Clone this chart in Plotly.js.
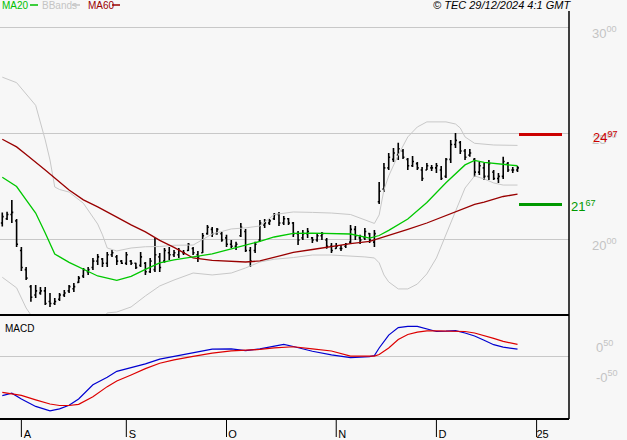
<!DOCTYPE html>
<html>
<head>
<meta charset="utf-8">
<script src="https://cdn.plot.ly/plotly-3.0.1.min.js"></script>
<style>html,body{margin:0;padding:0;background:#f7f7f7;}#chart{width:627px;height:440px;}</style>
</head>
<body>
<div id="chart"></div>
<script>
// ---- Data ----
const dates = [
'2024-07-26','2024-07-29','2024-07-30','2024-07-31',
'2024-08-01','2024-08-02','2024-08-05','2024-08-06','2024-08-07','2024-08-08','2024-08-09','2024-08-12','2024-08-13','2024-08-14','2024-08-15','2024-08-16','2024-08-19','2024-08-20','2024-08-21','2024-08-22','2024-08-23','2024-08-26','2024-08-27','2024-08-28','2024-08-29','2024-08-30',
'2024-09-02','2024-09-03','2024-09-04','2024-09-05','2024-09-06','2024-09-09','2024-09-10','2024-09-11','2024-09-12','2024-09-13','2024-09-16','2024-09-17','2024-09-18','2024-09-19','2024-09-20','2024-09-23','2024-09-24','2024-09-25','2024-09-26','2024-09-27','2024-09-30',
'2024-10-01','2024-10-02','2024-10-03','2024-10-04','2024-10-07','2024-10-08','2024-10-09','2024-10-10','2024-10-11','2024-10-14','2024-10-15','2024-10-16','2024-10-17','2024-10-18','2024-10-21','2024-10-22','2024-10-23','2024-10-24','2024-10-25','2024-10-28','2024-10-29','2024-10-30','2024-10-31',
'2024-11-01','2024-11-04','2024-11-05','2024-11-06','2024-11-07','2024-11-08','2024-11-11','2024-11-12','2024-11-13','2024-11-14','2024-11-15','2024-11-18','2024-11-19','2024-11-20','2024-11-21','2024-11-22','2024-11-25','2024-11-26','2024-11-27','2024-11-28','2024-11-29',
'2024-12-02','2024-12-03','2024-12-04','2024-12-05','2024-12-06','2024-12-09','2024-12-10','2024-12-11','2024-12-12','2024-12-13','2024-12-16','2024-12-17','2024-12-18','2024-12-19','2024-12-20','2024-12-23','2024-12-24','2024-12-27'
];
const openP = [
20.8,21.0,21.2,20.9,19.5,18.6,17.8,17.4,17.5,17.6,
17.1,17.0,17.2,17.4,17.6,17.7,18.0,18.3,18.5,18.7,
19.0,19.1,18.9,19.3,19.2,19.0,18.9,19.0,18.9,18.8,
18.9,18.5,18.6,19.2,19.0,19.4,19.3,19.3,19.4,19.5,
19.6,19.3,19.4,20.3,20.5,20.3,20.3,20.1,19.8,19.7,
20.2,20.4,19.5,19.5,20.0,20.7,20.8,21.0,21.2,20.8,
21.0,20.8,20.3,20.1,20.3,20.1,20.0,20.2,20.0,19.7,
19.6,19.6,19.7,19.9,20.5,20.1,20.1,20.3,19.9,21.8,
22.4,23.4,23.8,24.0,24.2,23.8,23.5,23.6,23.3,23.3,
23.4,23.4,23.3,23.0,23.8,24.5,24.6,24.2,24.0,23.8,
23.2,23.4,23.0,23.2,22.9,23.0,23.6,23.3,23.3];
const highP = [
21.29,21.33,21.89,20.99,19.67,18.73,17.88,17.88,17.78,17.78,
17.50,17.26,17.50,17.64,17.88,17.97,18.30,18.68,18.73,19.15,
19.34,19.15,19.43,19.53,19.29,19.06,19.43,19.06,18.92,19.43,
18.96,19.15,20.09,19.39,19.62,19.67,19.53,19.62,19.53,19.86,
19.67,19.48,20.33,20.71,20.61,20.57,20.38,20.24,20.00,19.91,
20.80,20.52,19.67,19.91,20.94,20.99,20.99,21.27,21.32,21.13,
21.04,20.85,20.42,20.47,20.57,20.14,20.33,20.38,20.09,19.86,
19.86,19.76,19.86,20.71,20.66,20.24,20.57,20.33,20.47,22.74,
23.63,24.10,24.34,24.58,24.29,23.87,23.96,23.68,23.44,23.63,
23.54,23.63,23.49,23.87,24.72,25.05,24.67,24.29,24.29,23.87,
23.68,23.63,23.77,23.30,23.16,23.92,23.68,23.44,23.49];
const lowP = [
20.63,20.94,20.80,19.67,18.54,18.11,17.08,17.26,17.41,16.93,
16.84,16.93,17.12,17.31,17.50,17.55,17.97,18.21,18.35,18.58,
18.82,18.73,18.73,19.20,18.82,18.87,18.82,18.82,18.63,18.73,
18.35,18.44,18.49,18.49,18.92,19.06,19.20,19.15,19.29,19.48,
19.29,18.96,19.39,20.24,20.14,20.24,19.91,19.67,19.62,19.53,
20.14,19.43,18.73,19.39,19.91,20.57,20.71,20.94,20.66,20.71,
20.71,20.14,19.76,20.00,20.09,19.86,19.91,20.00,19.58,19.39,
19.58,19.48,19.62,19.81,20.00,19.81,20.00,19.86,19.67,21.70,
22.26,23.30,23.68,23.77,23.82,23.30,23.44,23.30,22.78,23.30,
23.25,23.16,22.83,22.92,23.63,24.34,24.06,23.77,23.92,22.97,
23.07,22.83,22.83,22.83,22.69,22.88,23.21,23.16,23.21];
const closeP = [
21.1,21.2,21.3,19.8,18.7,18.2,17.3,17.6,17.6,17.0,
17.0,17.1,17.4,17.5,17.8,17.8,18.2,18.6,18.6,19.0,
19.2,18.9,19.3,19.4,19.0,18.9,19.3,18.9,18.7,19.2,
18.5,19.0,19.3,18.7,19.5,19.3,19.4,19.5,19.4,19.8,
19.4,19.2,20.2,20.6,20.3,20.5,20.0,19.8,19.7,19.8,
20.6,19.5,19.0,19.8,20.8,20.8,20.9,21.2,20.8,21.0,
20.8,20.3,20.0,20.3,20.4,20.0,20.2,20.3,19.7,19.5,
19.7,19.6,19.8,20.5,20.2,20.0,20.4,20.0,20.3,22.3,
23.4,23.9,24.1,24.3,23.9,23.5,23.7,23.4,22.9,23.5,
23.4,23.5,22.9,23.8,24.5,24.7,24.2,23.9,24.1,23.2,
23.5,23.0,23.6,22.9,23.0,23.7,23.3,23.3,23.4];

// moving averages, read at sample sessions (1-based session numbers)
const maSessions = [1,4,6,8,10,12,15,18,21,25,28,31,34,37,41,45,49,52,55,58,62,66,70,74,78,80,82,86,90,94,98,100,102,106,109];
const ma20 = [22.96,22.52,21.89,21.27,20.33,19.34,18.94,18.62,18.30,18.09,18.28,18.61,18.92,19.06,19.20,19.34,19.58,19.74,19.93,20.14,20.31,20.32,20.31,20.28,20.09,20.21,20.45,20.99,21.77,22.70,23.54,23.75,23.66,23.57,23.50];
const ma60 = [24.75,24.39,24.03,23.68,23.30,22.92,22.36,21.89,21.56,21.08,20.71,20.38,19.98,19.65,19.15,19.04,19.01,18.96,19.01,19.17,19.41,19.55,19.69,19.83,19.93,20.07,20.19,20.50,20.80,21.16,21.51,21.68,21.79,22.05,22.16];

const bbUpSessions = [1,4,8,10,11,12,13,15,18,21,22,23,25,28,31,34,37,41,45,49,52,55,58,62,66,70,74,77,79,80,81,82,84,86,88,90,94,96,97,98,100,104,109];
const bbUpper = [27.68,27.42,26.35,24.72,23.77,22.50,22.38,22.26,21.73,20.75,20.24,19.62,19.48,19.62,19.68,19.69,19.75,19.76,20.28,20.52,20.57,20.66,21.20,21.32,21.30,21.27,21.20,20.97,20.78,21.18,22.36,23.02,24.01,24.86,25.33,25.57,25.57,25.47,25.28,24.86,24.56,24.48,24.46];
const bbLowSessions = [1,4,6,8,11,15,18,21,23,25,28,31,34,37,41,45,49,52,55,58,62,66,70,74,77,79,80,81,82,84,86,88,90,92,94,96,98,100,102,104,106,109];
const bbLower = [18.24,17.74,16.79,16.13,15.85,15.61,15.52,15.85,16.56,16.60,16.84,17.36,17.83,18.11,18.44,18.35,18.44,18.68,18.96,19.09,19.17,19.29,19.29,19.25,19.20,19.15,18.92,18.35,18.02,17.69,17.69,17.92,18.40,19.15,20.24,21.27,22.45,23.02,22.88,22.69,22.59,22.59];

const macdSessions = [1,3,5,8,11,13,15,17,20,23,25,28,31,34,37,41,45,49,52,55,58,60,62,66,70,74,78,79,80,82,84,86,88,90,92,94,96,98,100,102,104,106,109];
const macd = [-1.29,-1.21,-1.40,-1.65,-1.80,-1.73,-1.61,-1.40,-0.93,-0.68,-0.48,-0.35,-0.23,-0.07,0.02,0.12,0.26,0.27,0.21,0.27,0.37,0.42,0.35,0.19,0.07,-0.02,0.01,0.05,0.30,0.73,0.98,1.02,1.02,0.94,0.85,0.86,0.88,0.80,0.70,0.56,0.41,0.33,0.26];
const macdSignal = [-1.18,-1.22,-1.28,-1.43,-1.57,-1.62,-1.62,-1.58,-1.33,-0.99,-0.80,-0.60,-0.39,-0.21,-0.10,0.02,0.13,0.20,0.22,0.25,0.30,0.33,0.34,0.27,0.20,0.03,0.01,0.03,0.08,0.30,0.58,0.75,0.83,0.87,0.87,0.87,0.87,0.85,0.80,0.72,0.62,0.52,0.42];

const levels = [24.97, 21.67];
const levelLabels = ['24<sup>97</sup>', '21<sup>67</sup>'];

const monthTicks = ['2024-08-01','2024-09-02','2024-10-01','2024-11-01','2024-12-02','2025-01-02'];
const monthLabels = ['A','S','O','N','D','25'];
const priceTicks = [20, 25, 30];
const priceTickText = ['20<sup>00</sup>','25<sup>00</sup>','30<sup>00</sup>'];
const macdTicks = [0.5, -0.5];
const macdTickText = ['0<sup>50</sup>','-0<sup>50</sup>'];

const legendNames = ['MA20', 'BBands', 'MA60'];
const legendColors = ['#00c000', '#c4c4c4', '#990000'];

// ---- Build ----
const at = s => s.map(n => dates[n-1]);
const FONT = 'Liberation Sans, Arial, sans-serif';
const W = 569, H = 419, SPLIT = 315; // plot pixel geometry
const splitFrac = (H - SPLIT) / H;
const XRANGE = ['2024-07-25 12:30','2025-01-10 19:00'];
const BREAKS = [{bounds:['sat','mon']},{values:['2024-12-25','2024-12-26']}];

const traces = [
  {type:'scatter', mode:'lines', x:at(bbUpSessions), y:bbUpper, line:{color:'#c8c8c8', width:1}, xaxis:'x', yaxis:'y'},
  {type:'scatter', mode:'lines', x:at(bbLowSessions), y:bbLower, line:{color:'#c8c8c8', width:1}, xaxis:'x', yaxis:'y'},
  {type:'scatter', mode:'lines', x:at(maSessions), y:ma60, line:{color:'#990000', width:1.3}, xaxis:'x', yaxis:'y'},
  {type:'scatter', mode:'lines', x:at(maSessions), y:ma20, line:{color:'#00c800', width:1.3}, xaxis:'x', yaxis:'y'},
  {type:'ohlc', x:dates, open:openP, high:highP, low:lowP, close:closeP, xaxis:'x', yaxis:'y',
   increasing:{line:{color:'#000000', width:1.6}}, decreasing:{line:{color:'#000000', width:1.6}}, tickwidth:0.3},
  {type:'scatter', mode:'lines', x:at(macdSessions), y:macd, line:{color:'#0000d0', width:1.2}, xaxis:'x', yaxis:'y2'},
  {type:'scatter', mode:'lines', x:at(macdSessions), y:macdSignal, line:{color:'#dd0000', width:1.2}, xaxis:'x', yaxis:'y2'}
];

const legendPos = [1, 41, 87];
const legendLineStart = [30, 72, 112];
const annotations = [];
const shapes = [
  {type:'line', xref:'paper', yref:'paper', x0:0, x1:1, y0:splitFrac, y1:splitFrac, line:{color:'#000', width:2}},
  {type:'line', xref:'paper', yref:'paper', x0:0, x1:1, y0:0, y1:0, line:{color:'#000', width:2}},
  {type:'line', xref:'paper', yref:'paper', x0:1, x1:1, y0:0, y1:(H-11)/H, line:{color:'#000', width:1.5}},
  {type:'line', xref:'paper', yref:'y', x0:519/W, x1:562/W, y0:levels[0], y1:levels[0], line:{color:'#cc0000', width:3}},
  {type:'line', xref:'paper', yref:'y', x0:519/W, x1:562/W, y0:levels[1], y1:levels[1], line:{color:'#009900', width:3}}
];
// long month tick marks below the MACD panel
monthTicks.forEach(d => {
  shapes.push({type:'line', xref:'x', yref:'paper', x0:d, x1:d, y0:0, y1:-18/H, line:{color:'#000', width:1}});
});
legendNames.forEach((name, i) => {
  annotations.push({xref:'paper', yref:'paper', x:legendPos[i]/W, y:(H-5)/H, xanchor:'left', yanchor:'middle',
    showarrow:false, text:name, borderpad:0, font:{family:FONT, size:10, color:legendColors[i]}});
  shapes.push({type:'line', xref:'paper', yref:'paper', x0:legendLineStart[i]/W, x1:(legendLineStart[i]+8)/W,
    y0:(H-5)/H, y1:(H-5)/H, line:{color:legendColors[i], width:1.5}});
});
annotations.push(
  {xref:'paper', yref:'paper', x:573/W, y:(H-5)/H, xanchor:'right', yanchor:'middle', showarrow:false, text:'<i>© TEC 29/12/2024 4:1 GMT</i>', font:{family:FONT, size:11, color:'#000'}},
  {xref:'paper', yref:'paper', x:3/W, y:(H-328)/H, xanchor:'left', yanchor:'middle', showarrow:false, text:'MACD', font:{family:FONT, size:10, color:'#000'}},
  {xref:'paper', yref:'y', x:1, y:levels[0], xanchor:'left', yanchor:'middle', xshift:22, yshift:-2, showarrow:false, text:levelLabels[0], font:{family:FONT, size:13, color:'#cc0000'}},
  {xref:'paper', yref:'y', x:1, y:levels[1], xanchor:'left', yanchor:'middle', xshift:0, yshift:-1, showarrow:false, text:levelLabels[1], font:{family:FONT, size:13, color:'#009900'}}
);

const layout = {
  width:627, height:440,
  margin:{l:0, r:627-W, t:0, b:440-H},
  paper_bgcolor:'#f7f7f7', plot_bgcolor:'#f7f7f7',
  showlegend:false, hovermode:false,
  font:{family:FONT, size:11, color:'#000'},
  xaxis:{
    type:'date', anchor:'y2', domain:[0,1], range:XRANGE, rangebreaks:BREAKS,
    rangeslider:{visible:false},
    tickmode:'array', tickvals:monthTicks, ticktext:monthLabels,
    ticks:'', ticklabelstandoff:7, ticklabelshift:6,
    tickfont:{family:FONT, size:11, color:'#000'},
    showgrid:false, zeroline:false, showline:false
  },
  yaxis:{
    domain:[splitFrac,1], anchor:'x', side:'right',
    range:[16.46, 31.32],
    tickmode:'array', tickvals:priceTicks, ticktext:priceTickText,
    ticks:'', ticklabelstandoff:22, ticklabelshift:5,
    tickfont:{family:FONT, size:13, color:'#c4c4c4'},
    showgrid:true, gridcolor:'#c8c8c8', gridwidth:1, zeroline:false, showline:false
  },
  yaxis2:{
    domain:[0,splitFrac], anchor:'x', side:'right',
    range:[-2.07, 1.40],
    tickmode:'array', tickvals:macdTicks, ticktext:macdTickText,
    ticks:'', ticklabelstandoff:26, ticklabelshift:5,
    tickfont:{family:FONT, size:13, color:'#c4c4c4'},
    showgrid:false, zeroline:true, zerolinecolor:'#c8c8c8', zerolinewidth:1, showline:false
  },
  shapes: shapes,
  annotations: annotations
};

Plotly.newPlot('chart', traces, layout, {displayModeBar:false, staticPlot:true});
</script>
</body>
</html>
